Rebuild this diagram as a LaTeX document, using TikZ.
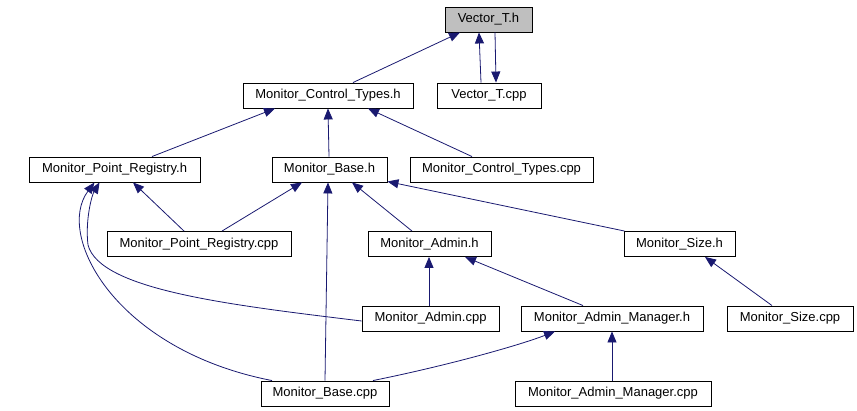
\documentclass[tikz,border=0pt]{standalone}
\usepackage{fontspec}
\setmainfont{Liberation Sans}
\usetikzlibrary{arrows.meta}
\definecolor{edgeblue}{HTML}{191970}
\definecolor{hdrgray}{HTML}{BFBFBF}
\tikzset{
  fbox/.style={draw=black, line width=0.9pt, fill=white, inner sep=0pt,
    minimum height=25pt, font=\fontsize{13}{15}\selectfont},
  dep/.style={draw=edgeblue, line width=0.8pt,
    -{Triangle[length=11pt,width=9pt,fill=edgeblue]}},
}
\begin{document}
\begin{tikzpicture}[x=1pt,y=-1pt]
\useasboundingbox (0,0) rectangle (857,411);
% nodes
\node[fbox, fill=hdrgray, minimum width=87pt] (VTh) at (488.5,19.5) {Vector\_T.h};
\node[fbox, minimum width=170pt] (MCTh) at (328,95.5) {Monitor\_Control\_Types.h};
\node[fbox, minimum width=104pt] (VTcpp) at (489,95.5) {Vector\_T.cpp};
\node[fbox, minimum width=171pt] (MPRh) at (114.5,169.5) {Monitor\_Point\_Registry.h};
\node[fbox, minimum width=115pt] (MBh) at (329.5,169.5) {Monitor\_Base.h};
\node[fbox, minimum width=183pt] (MCTcpp) at (501.5,169.5) {Monitor\_Control\_Types.cpp};
\node[fbox, minimum width=184pt] (MPRcpp) at (199,244) {Monitor\_Point\_Registry.cpp};
\node[fbox, minimum width=123pt] (MAh) at (429.5,244) {Monitor\_Admin.h};
\node[fbox, minimum width=111pt] (MSh) at (679.5,244) {Monitor\_Size.h};
\node[fbox, minimum width=137pt] (MAcpp) at (430.5,318.5) {Monitor\_Admin.cpp};
\node[fbox, minimum width=182pt] (MAMh) at (612,318.5) {Monitor\_Admin\_Manager.h};
\node[fbox, minimum width=126pt] (MScpp) at (790,318.5) {Monitor\_Size.cpp};
\node[fbox, minimum width=128pt] (MBcpp) at (325,393.5) {Monitor\_Base.cpp};
\node[fbox, minimum width=196pt] (MAMcpp) at (613,393.5) {Monitor\_Admin\_Manager.cpp};
% edges
\draw[dep] ([xshift=25pt]MCTh.north) -- ([xshift=-28.5pt]VTh.south);
\draw[dep] ([xshift=-8pt]VTcpp.north) -- ([xshift=-9.5pt]VTh.south);
\draw[dep] ([xshift=6.5pt]VTh.south) -- ([xshift=7pt]VTcpp.north);
\draw[dep] ([xshift=37.5pt]MPRh.north) -- ([xshift=-53pt]MCTh.south);
\draw[dep] ([xshift=-0.5pt]MBh.north) -- (MCTh.south);
\draw[dep] ([xshift=-29.5pt]MCTcpp.north) -- ([xshift=40pt]MCTh.south);
\draw[dep] ([xshift=-15pt]MPRcpp.north) -- ([xshift=18.5pt]MPRh.south);
\draw[dep] ([xshift=23pt]MPRcpp.north) -- ([xshift=-27.5pt]MBh.south);
\draw[dep] ([xshift=-17.5pt]MAh.north) -- ([xshift=22.5pt]MBh.south);
\draw[dep] ([xshift=1pt]MSh.north west) -- ([yshift=-0.5pt]MBh.east |- 0,181);
\draw[dep] ([xshift=0pt]MBcpp.north) -- ([xshift=-1.5pt]MBh.south);
\draw[dep] ([xshift=-1.5pt]MAcpp.north) -- ([xshift=-0.5pt]MAh.south);
\draw[dep] ([xshift=-29pt]MAMh.north) -- ([xshift=35.5pt]MAh.south);
\draw[dep] ([xshift=-18pt]MScpp.north) -- ([xshift=25.5pt]MSh.south);
\draw[dep] ([xshift=-1pt]MAMcpp.north) -- (MAMh.south);
\draw[dep] ([xshift=48pt]MBcpp.north) .. controls (450,365) and (520,345) .. ([xshift=-57pt]MAMh.south);
\draw[dep] ([xshift=-53pt]MBcpp.north) .. controls (115,350) and (55,235) .. ([xshift=-20pt]MPRh.south);
\draw[dep] ([yshift=-2.5pt]MAcpp.west) .. controls (230,305) and (100,290) .. (88,245) .. controls (85,220) and (92,195) .. ([xshift=-15pt]MPRh.south);
\end{tikzpicture}
\end{document}
